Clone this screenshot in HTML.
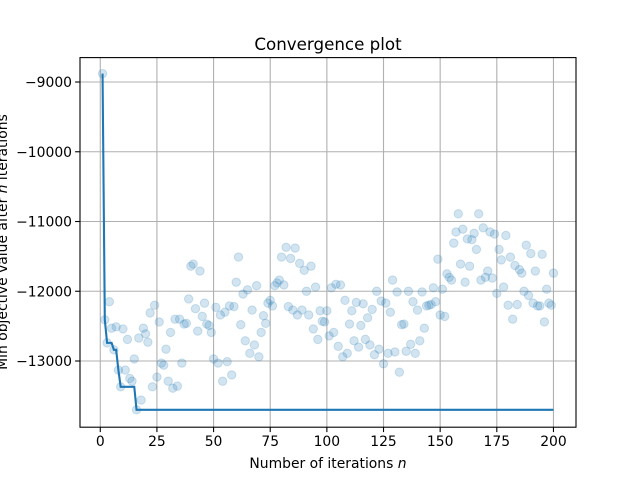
<!DOCTYPE html>
<html><head><meta charset="utf-8"><style>
html,body{margin:0;padding:0;background:#fff;}
svg{display:block;font-family:"DejaVu Sans","Liberation Sans",sans-serif;}
</style></head><body>
<svg id="chart" width="640" height="480" viewBox="0 0 640 480" xmlns="http://www.w3.org/2000/svg">
<rect width="640" height="480" fill="#fff"/>
<g id="grid"></g>
<g id="marks"></g>
<g id="axes"></g>
<text x="328" y="50" text-anchor="middle" font-size="16.7">Convergence plot</text>
<text x="328" y="468" text-anchor="middle" font-size="13.9">Number of iterations <tspan font-style="italic">n</tspan></text>
<text transform="translate(7,242) rotate(-90)" text-anchor="middle" font-size="13.9">Min objective value after <tspan font-style="italic">n</tspan> iterations</text>
</svg>
<script>
const values = [-8880,-12410,-12740,-12150,-12530,-12840,-12510,-13130,-13370,-12540,
-13130,-12690,-13250,-13290,-12970,-13700,-12670,-13560,-12530,-12610,
-12730,-12310,-13370,-12200,-13230,-12440,-13030,-13060,-12830,-13290,
-12590,-13390,-12400,-13360,-12400,-13030,-12470,-12460,-12110,-11640,
-11610,-12250,-12570,-11710,-12360,-12170,-12470,-12490,-12590,-12970,
-12230,-13030,-12340,-13290,-12300,-13010,-12210,-13200,-12220,-11870,
-11510,-12480,-12040,-12710,-11980,-12890,-12270,-12770,-11920,-12940,
-12590,-12350,-12460,-12170,-12130,-12210,-11920,-11880,-11840,-11510,
-11910,-11370,-12220,-11530,-12270,-11380,-12340,-11600,-12270,-11700,
-12000,-12340,-11640,-12540,-11940,-12690,-12280,-12430,-12440,-12280,
-12640,-11950,-12590,-11900,-12790,-11910,-12940,-12130,-12890,-12470,
-12280,-12710,-12160,-12800,-12490,-12180,-12690,-12380,-12770,-12260,
-12910,-12000,-12830,-12140,-13040,-12170,-12890,-12300,-11840,-12870,
-12010,-13160,-12480,-12470,-12860,-12000,-12760,-12150,-12890,-12270,
-12710,-12010,-12530,-12210,-12200,-12190,-11950,-12150,-11540,-12340,
-11970,-12360,-11750,-11800,-11840,-11310,-11150,-10890,-11610,-11110,
-11870,-11250,-11640,-11260,-11170,-11400,-10890,-11840,-11090,-11800,
-11710,-11150,-11810,-11180,-12030,-11400,-11550,-11940,-11200,-12200,
-11510,-12400,-11630,-12190,-11690,-11740,-12000,-11340,-12060,-11460,
-12170,-11710,-12210,-12210,-11470,-12440,-11970,-12170,-12200,-11740];
const xTicks = [0,25,50,75,100,125,150,175,200];
const yTicks = [-9000,-10000,-11000,-12000,-13000];
const yTickLabels = ["\u22129000","\u221210000","\u221211000","\u221212000","\u221213000"];

const NS="http://www.w3.org/2000/svg";
const L=80,R=576,T=57.6,B=427.2;
const n=values.length;
const xmin=1-0.05*(n-1), xmax=n+0.05*(n-1);
const ymin=-13949, ymax=-8650;
const X=v=>L+(v-xmin)/(xmax-xmin)*(R-L);
const Y=v=>B-(v-ymin)/(ymax-ymin)*(B-T);
function mk(tag,attrs,parent){const e=document.createElementNS(NS,tag);for(const k in attrs)e.setAttribute(k,attrs[k]);parent.appendChild(e);return e;}
const grid=document.getElementById('grid'),marks=document.getElementById('marks'),axes=document.getElementById('axes');
xTicks.forEach(t=>{
  const g=mk('line',{x1:X(t),x2:X(t),y1:T,y2:B,stroke:'#b0b0b0','stroke-width':1.1},grid);
  
  
  const tk=mk('line',{x1:X(t),x2:X(t),y1:B,y2:B+4.9,stroke:'#000','stroke-width':1.1},axes);
  
  
  const tx=mk('text',{x:X(t),y:B+19,'text-anchor':'middle','font-size':13.9},axes);
  tx.textContent=t;
  
  
});
yTicks.forEach((t,i)=>{
  const g=mk('line',{x1:L,x2:R,y1:Y(t),y2:Y(t),stroke:'#b0b0b0','stroke-width':1.1},grid);
  
  
  const tk=mk('line',{x1:L-4.9,x2:L,y1:Y(t),y2:Y(t),stroke:'#000','stroke-width':1.1},axes);
  
  
  const tx=mk('text',{x:L-8,y:Y(t)+5,'text-anchor':'end','font-size':13.9},axes);
  tx.textContent=yTickLabels[i];
  
  
});
values.forEach((v,i)=>{
  const c=mk('circle',{cx:X(i+1),cy:Y(v),r:4.2,fill:'#1f77b4','fill-opacity':0.2,stroke:'#1f77b4','stroke-opacity':0.2,'stroke-width':1},marks);
  
  
});
let m=Infinity;const pts=values.map((v,i)=>{m=Math.min(m,v);return X(i+1).toFixed(2)+','+Y(m).toFixed(2);});
const line=mk('polyline',{points:pts.join(' '),fill:'none',stroke:'#1f77b4','stroke-width':2.1},marks);


const frame=mk('rect',{x:L,y:T,width:R-L,height:B-T,fill:'none',stroke:'#000','stroke-width':1.1},axes);


</script>
</body></html>
